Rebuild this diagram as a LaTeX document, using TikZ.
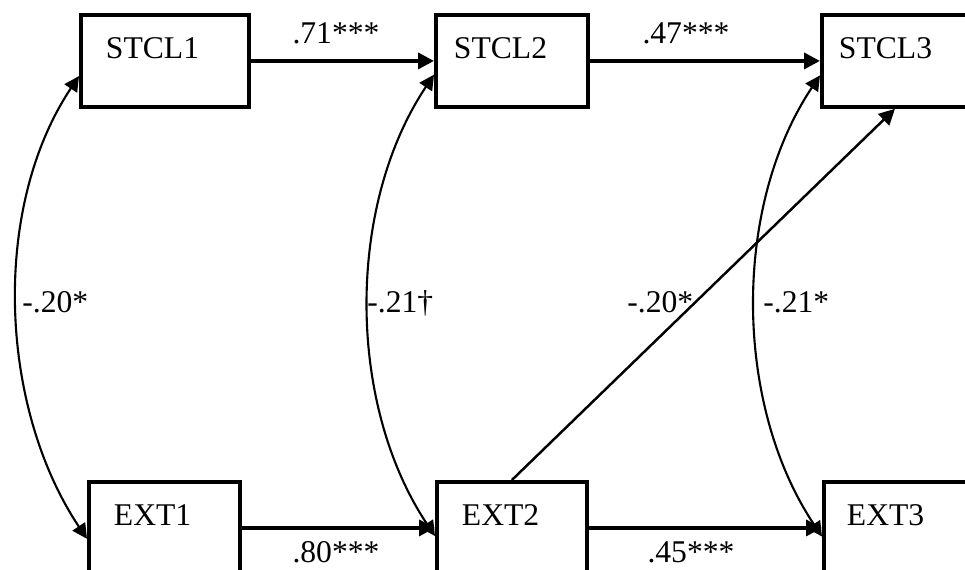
\documentclass[tikz,border=0pt]{standalone}
\usepackage{fontspec}
\setmainfont{Liberation Serif}
\usetikzlibrary{positioning,arrows.meta}

\begin{document}
\begin{tikzpicture}[
    x=0.02cm, y=-0.02cm,
    >={Triangle[length=9pt,width=9pt]},
    varBox/.style={rectangle, draw, line width=2.2pt, inner ysep=0pt, text height=0.88cm, text depth=0.96cm, align=left, anchor=north west, font=\fontsize{18}{20}\selectfont},
    pathArrow/.style={->, line width=2pt},
    corrArrow/.style={<->, line width=1.2pt, >={Triangle[length=8.5pt,width=8.5pt]}},
    coefLabel/.style={inner sep=0pt, anchor=base, font=\fontsize{18}{20}\selectfont},
    corrLabel/.style={inner sep=0pt, anchor=base west, font=\fontsize{18}{20}\selectfont}
]
    \useasboundingbox (0,0) rectangle (965,569);

    % latent constructs at three waves
    \node[varBox, inner xsep=0.5cm, text width=2.36cm] (stcl1) at (79,13) {STCL1};
    \node[varBox, inner xsep=0.36cm, text width=2.32cm] (stcl2) at (434,13) {STCL2};
    \node[varBox, inner xsep=0.34cm, text width=2.52cm] (stcl3) at (820,13) {STCL3};
    \node[varBox, inner xsep=0.5cm, text width=2.02cm] (ext1) at (87,480) {EXT1};
    \node[varBox, inner xsep=0.5cm, text width=2.0cm] (ext2) at (435,480) {EXT2};
    \node[varBox, inner xsep=0.46cm, text width=2.28cm] (ext3) at (822,480) {EXT3};

    % stability and cross-lagged paths
    \draw[pathArrow] (stcl1) -- (stcl2);
    \draw[pathArrow] (stcl2) -- (stcl3);
    \draw[pathArrow] (ext1) -- (ext2);
    \draw[pathArrow] (ext2) -- (ext3);
    \draw[pathArrow, line width=1.4pt] (ext2.north) -- ([xshift=-0.14cm]stcl3.south);

    % within-wave correlations
    \draw[corrArrow] (stcl1.190) .. controls +(-88,132) and +(-88,-132) .. (ext1.188);
    \draw[corrArrow] (stcl2.190) .. controls +(-88,132) and +(-88,-132) .. (ext2.186);
    \draw[corrArrow] (stcl3.190) .. controls +(-88,132) and +(-88,-132) .. (ext3.186);

    \node[coefLabel] (c71) at (336,43) {.71***};
    \node[coefLabel] (c47) at (686,43) {.47***};
    \node[coefLabel] (c80) at (336,562) {.80***};
    \node[coefLabel] (c45) at (691,562) {.45***};

    \node[corrLabel] (r1) at (22,312) {-.20*};
    \node[corrLabel] (r2) at (367,312) {-.21†};
    \node[corrLabel] (r3) at (627,312) {-.20*};
    \node[corrLabel] (r4) at (763,312) {-.21*};
\end{tikzpicture}
\end{document}
